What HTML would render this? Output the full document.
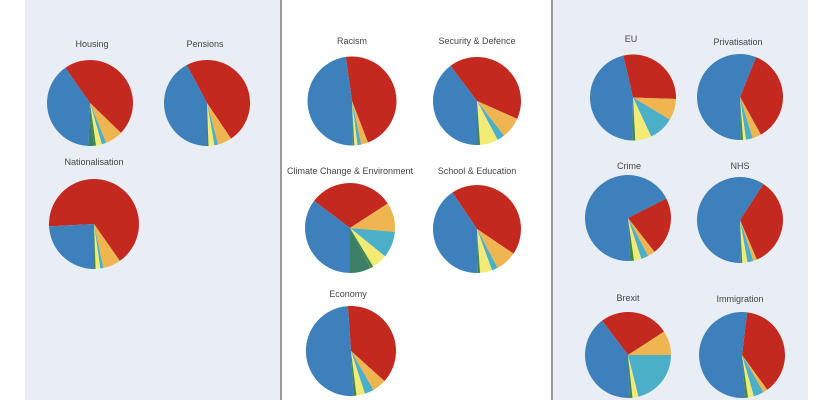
<!DOCTYPE html>
<html><head><meta charset="utf-8"><style>
body{margin:0;width:840px;height:400px;overflow:hidden;background:#fff}
svg{display:block}
text{font-family:"Liberation Sans",sans-serif;font-size:9px;fill:#444;text-anchor:middle}
</style></head><body>
<svg id="s" width="840" height="400" xmlns="http://www.w3.org/2000/svg">
<rect x="25" y="0" width="255" height="400" fill="#e9eef4"/>
<rect x="280" y="0" width="2" height="400" fill="#9a9a9a"/>
<rect x="551" y="0" width="2" height="400" fill="#9a9a9a"/>
<rect x="553" y="0" width="255" height="400" fill="#e9eef4"/>
<text x="92" y="47">Housing</text>
<text x="205" y="47">Pensions</text>
<text x="94" y="165">Nationalisation</text>
<text x="352" y="44">Racism</text>
<text x="477" y="44">Security &amp; Defence</text>
<text x="350" y="174">Climate  Change &amp;  Environment</text>
<text x="477" y="174">School &amp; Education</text>
<text x="348" y="297">Economy</text>
<text x="631" y="42">EU</text>
<text x="738" y="45">Privatisation</text>
<text x="629" y="169">Crime</text>
<text x="740" y="169">NHS</text>
<text x="628" y="301">Brexit</text>
<text x="740" y="302">Immigration</text>
</svg>
<script>
var C={r:"#c4291f",b:"#3d80bb",o:"#eeb550",c:"#4bafc8",y:"#f4eb77",g:"#3f8a4a",t:"#3a7f66"};
// [cx,cy,r,start,[[color,end],...]]
var P=[
[90,103,43,-35,[["r",134],["o",158],["c",164],["y",172],["g",175],["t",182],["b",325]]],
[207,103,43,-28,[["r",146],["o",165],["c",170],["y",178],["g",180],["b",332]]],
[94,224,45,-93,[["r",145],["o",168],["c",172],["y",178],["g",180],["b",267]]],
[352,101,44.5,-8,[["r",159],["o",168],["c",173],["y",177],["g",179],["b",352]]],
[477,101,44,-37,[["r",114],["o",142],["c",152],["y",176],["g",180],["b",323]]],
[350,228,45,-53,[["r",57],["o",95],["c",129],["y",149],["g",153],["t",180],["b",307]]],
[477,229,44,-34,[["r",124],["o",152],["c",160],["y",176],["g",179],["b",326]]],
[351,351,45,-4,[["r",132],["o",150],["c",162],["y",173],["g",177],["b",356]]],
[633,97.5,43,-13,[["r",92],["o",121],["c",155],["y",177],["g",181],["b",347]]],
[740,97,43,22,[["r",151],["o",163],["c",172],["y",176],["g",179],["b",382]]],
[628,218,43,63,[["r",142],["o",152],["c",162],["y",172],["g",177],["b",423]]],
[740,220,43,33,[["r",157],["o",162],["c",170],["y",177],["g",179],["b",393]]],
[628,355,43,-37,[["r",57],["o",90],["c",166],["y",174],["g",178],["b",323]]],
[742,355,43,7,[["r",144],["o",150],["c",164],["y",172],["g",176],["b",367]]]
];
var s=document.getElementById("s"),h="";
function pt(cx,cy,r,a){a=a*Math.PI/180;return (cx+r*Math.sin(a)).toFixed(2)+","+(cy-r*Math.cos(a)).toFixed(2);}
P.forEach(function(p){var a=p[3];p[4].forEach(function(q){var e=q[1],l=(e-a)>180?1:0;
h+='<path fill="'+C[q[0]]+'" d="M'+p[0]+','+p[1]+' L'+pt(p[0],p[1],p[2],a)+' A'+p[2]+','+p[2]+' 0 '+l+' 1 '+pt(p[0],p[1],p[2],e)+' Z"/>';a=e;});});
s.insertAdjacentHTML("beforeend",h);
</script>
</body></html>
